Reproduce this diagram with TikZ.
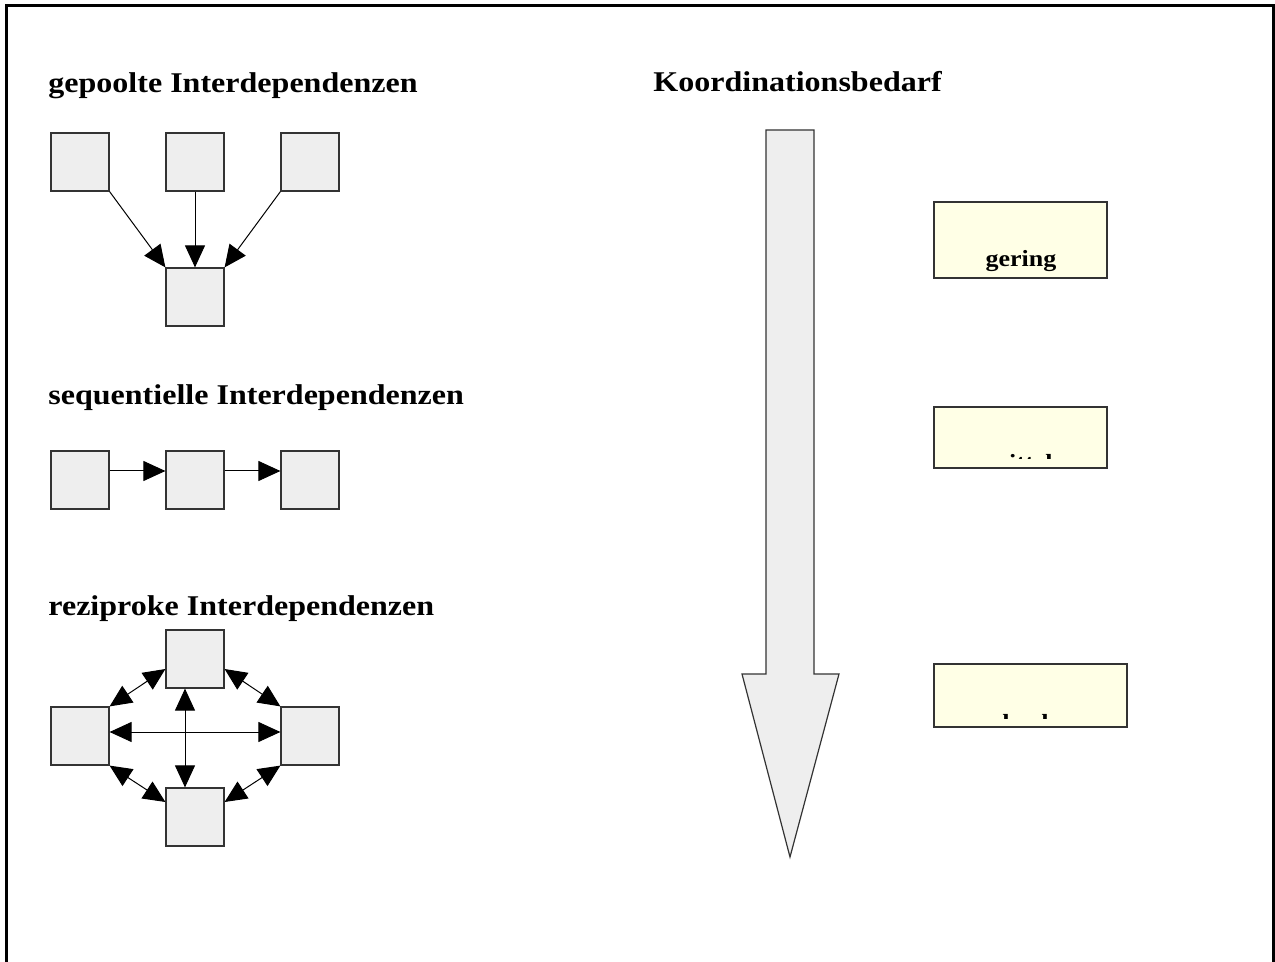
\documentclass[tikz,border=0pt]{standalone}
\usepackage{fontspec}
\setmainfont{Liberation Serif}[FakeStretch=1.12]
\usepackage{xcolor}
\usetikzlibrary{arrows.meta}
\definecolor{boxgray}{HTML}{EEEEEE}
\definecolor{paleyellow}{HTML}{FFFFE6}
\definecolor{edgegray}{HTML}{333333}

\begin{document}
\begin{tikzpicture}[x=0.5pt,y=-0.5pt,
  >={Triangle[length=11pt,width=10pt]},
  gbox/.style={draw=edgegray,line width=0.6pt,fill=boxgray,minimum size=29pt,inner sep=0pt},
  ybox/.style={draw=edgegray,line width=0.6pt,fill=paleyellow,inner sep=0pt},
  head/.style={anchor=base west,inner sep=0pt,font=\fontsize{14.3pt}{16pt}\selectfont\bfseries},
  level/.style={anchor=base,inner sep=0pt,font=\fontsize{11.6pt}{13pt}\selectfont\bfseries},
  arr/.style={line width=0.5pt,black}]
\useasboundingbox (0,0) rectangle (1275,962);
\draw[line width=1.5pt](6,962)--(6,6)--(1273,6)--(1273,962);

% headings
\node[head] (hpool) at (48,93) {gepoolte Interdependenzen};
\node[head] (hseq) at (48,405) {sequentielle Interdependenzen};
\node[head] (hrez) at (48,616) {reziproke Interdependenzen};
\node[head] (hkoord) at (653,92) {Koordinationsbedarf};

% gepoolt
\node[gbox] (p1) at (80,162) {};
\node[gbox] (p2) at (195,162) {};
\node[gbox] (p3) at (310,162) {};
\node[gbox] (p4) at (195,297) {};
\draw[arr,->](p1.south east)--(p4.north west);
\draw[arr,->](p2.south)--(p4.north);
\draw[arr,->](p3.south west)--(p4.north east);

% sequentiell
\node[gbox] (s1) at (80,480) {};
\node[gbox] (s2) at (195,480) {};
\node[gbox] (s3) at (310,480) {};
\draw[arr,->]([yshift=4.5pt]s1.east)--([yshift=4.5pt]s2.west);
\draw[arr,->]([yshift=4.5pt]s2.east)--([yshift=4.5pt]s3.west);

% reziprok
\node[gbox] (r1) at (195,659) {};
\node[gbox] (r2) at (80,736) {};
\node[gbox] (r3) at (310,736) {};
\node[gbox] (r4) at (195,817) {};
\draw[arr,<->]([yshift=2pt]r2.east)--([yshift=2pt]r3.west);
\draw[arr,<->]([xshift=-5pt]r1.south)--([xshift=-5pt]r4.north);
\draw[arr,<->](r2.north east)--([yshift=-5pt]r1.west);
\draw[arr,<->](r3.north west)--([yshift=-5pt]r1.east);
\draw[arr,<->](r2.south east)--([yshift=7.5pt]r4.west);
\draw[arr,<->](r3.south west)--([yshift=7.5pt]r4.east);

% Pfeil Koordinationsbedarf
\draw[draw=edgegray,line width=0.6pt,fill=boxgray](766,130)--(814,130)--(814,674)--(839,674)
  --(790,857)--(742,674)--(766,674)--cycle;

% Stufen
\node[ybox,minimum width=86.5pt,minimum height=38pt] (b1) at (1020.5,240) {};
\node[ybox,minimum width=86.5pt,minimum height=30.5pt] (b2) at (1020.5,437.5) {};
\node[ybox,minimum width=96.5pt,minimum height=31.5pt] (b3) at (1030.5,695.5) {};
\begin{scope}
\clip (938,206) rectangle (1103,274);
\node[level] (t1) at (1021,267) {gering};
\end{scope}
\begin{scope}
\clip (938,411) rectangle (1103,459);
\node[level] (t2) at (1020,471) {mittel};
\end{scope}
\begin{scope}
\clip (938,668) rectangle (1123,718);
\node[level] (t3) at (1029,730) {hoch};
\end{scope}
\end{tikzpicture}
\end{document}
